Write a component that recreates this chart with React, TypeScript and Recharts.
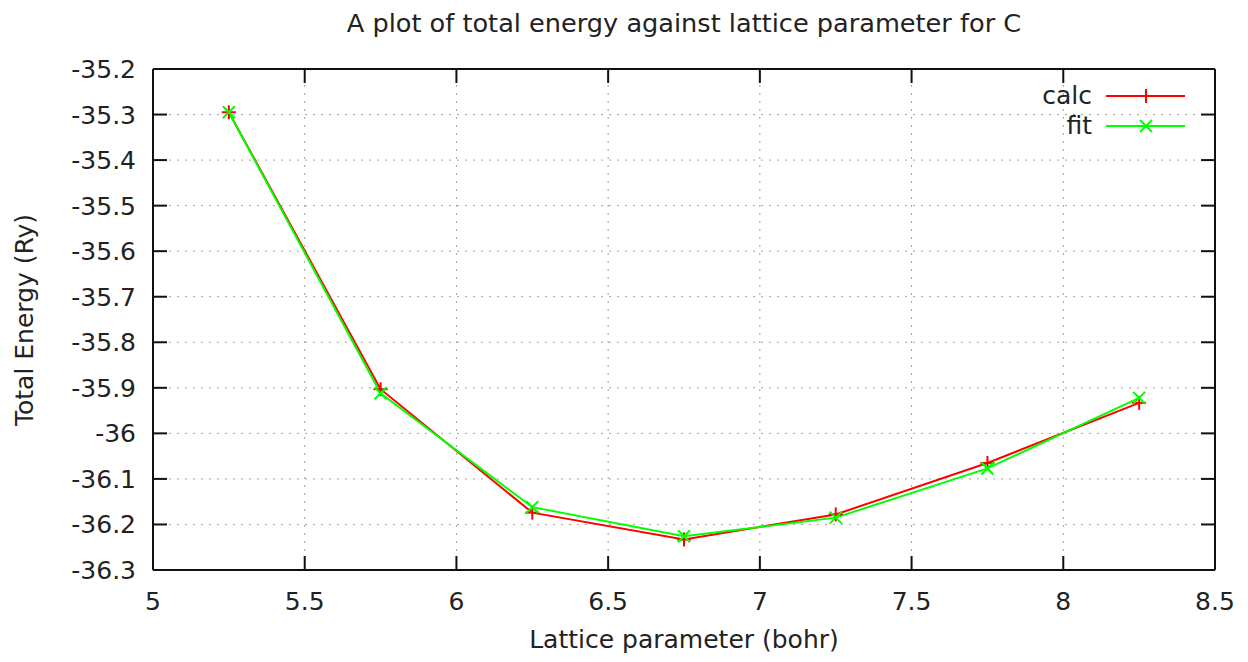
import React from 'react';
import { LineChart, Line, XAxis, YAxis, CartesianGrid, Customized } from 'recharts';

const latticeParams = [5.25, 5.75, 6.25, 6.75, 7.25, 7.75, 8.25];
const calcEnergy = [-35.295, -35.903, -36.174, -36.233, -36.178, -36.065, -35.933];
const fitEnergy = [-35.295, -35.912, -36.162, -36.226, -36.185, -36.077, -35.922];
const xTicks = [5, 5.5, 6, 6.5, 7, 7.5, 8, 8.5];
const yTicks = [-36.3, -36.2, -36.1, -36, -35.9, -35.8, -35.7, -35.6, -35.5, -35.4, -35.3, -35.2];

const data = latticeParams.map((a, i) => ({ a, calc: calcEnergy[i], fit: fitEnergy[i] }));

const FONT = 'DejaVu Sans';
const TEXT = '#222';
const W = 1232;
const H = 646;
const TICK_LEN = 14;
const LEFT_GAP = 17;
const BOTTOM_GAP = 22;
const BORDER = '#111';

const PlusDot = (props: any) => {
  const { cx, cy } = props;
  if (cx == null || cy == null) return null;
  return (
    <g>
      <line x1={cx - 7} x2={cx + 7} y1={cy} y2={cy} stroke="#ff0000" strokeWidth={2} />
      <line x1={cx} x2={cx} y1={cy - 7} y2={cy + 7} stroke="#ff0000" strokeWidth={2} />
    </g>
  );
};

const CrossDot = (props: any) => {
  const { cx, cy } = props;
  if (cx == null || cy == null) return null;
  return (
    <g>
      <line x1={cx - 6} x2={cx + 6} y1={cy - 6} y2={cy + 6} stroke="#00ff00" strokeWidth={2} />
      <line x1={cx - 6} x2={cx + 6} y1={cy + 6} y2={cy - 6} stroke="#00ff00" strokeWidth={2} />
    </g>
  );
};

const LeftTick = (props: any) => {
  const { x, y, payload } = props;
  const ax = x + LEFT_GAP;
  return (
    <g>
      <line x1={ax} x2={ax + TICK_LEN} y1={y} y2={y} stroke={BORDER} strokeWidth={2} />
      <text x={x} y={y} dy="0.36em" textAnchor="end" fontFamily={FONT} fontSize={25} fill={TEXT}>
        {String(payload.value)}
      </text>
    </g>
  );
};

const BottomTick = (props: any) => {
  const { x, y, payload } = props;
  const ay = y - BOTTOM_GAP;
  return (
    <g>
      <line x1={x} x2={x} y1={ay} y2={ay - TICK_LEN} stroke={BORDER} strokeWidth={2} />
      <text x={x} y={y} dy="0.72em" textAnchor="middle" fontFamily={FONT} fontSize={25} fill={TEXT}>
        {String(payload.value)}
      </text>
    </g>
  );
};

const TopTick = (props: any) => {
  const { x, y } = props;
  return <line x1={x} x2={x} y1={y} y2={y + TICK_LEN} stroke={BORDER} strokeWidth={2} />;
};

const RightTick = (props: any) => {
  const { x, y } = props;
  return <line x1={x} x2={x - TICK_LEN} y1={y} y2={y} stroke={BORDER} strokeWidth={2} />;
};

const Decorations = () => (
  <g fontFamily={FONT} fill={TEXT}>
    <text x={676} y={24} textAnchor="middle" fontSize={25.6} fill={TEXT}>
      A plot of total energy against lattice parameter for C
    </text>
    <text x={676} y={640} textAnchor="middle" fontSize={25} fill={TEXT}>
      Lattice parameter (bohr)
    </text>
    <text
      x={0}
      y={0}
      transform="translate(25,312) rotate(-90)"
      textAnchor="middle"
      fontSize={25}
      fill={TEXT}
    >
      Total Energy (Ry)
    </text>
    <text x={1084} y={96} textAnchor="end" fontSize={25} fill={TEXT}>calc</text>
    <line x1={1098} x2={1177} y1={88} y2={88} stroke="#ff0000" strokeWidth={2} />
    <PlusDot cx={1138} cy={88} />
    <text x={1084} y={126} textAnchor="end" fontSize={25} fill={TEXT}>fit</text>
    <line x1={1098} x2={1177} y1={118} y2={118} stroke="#00ff00" strokeWidth={2} />
    <CrossDot cx={1138} cy={118} />
  </g>
);

const axisLine = { stroke: BORDER, strokeWidth: 2 };

export default function App() {
  return (
    <LineChart
      width={W}
      height={H}
      data={data}
      margin={{ top: 41, right: 0, bottom: 24, left: 0 }}
    >
      <CartesianGrid
        xAxisId="bottom"
        yAxisId="left"
        stroke="#a0a0a0"
        strokeDasharray="2 6"
        strokeWidth={1}
      />
      <XAxis
        xAxisId="bottom"
        dataKey="a"
        type="number"
        domain={[5, 8.5]}
        ticks={xTicks}
        allowDataOverflow
        height={60}
        axisLine={axisLine}
        tickLine={false}
        tickSize={0}
        tickMargin={BOTTOM_GAP}
        tick={<BottomTick />}
        interval={0}
      />
      <XAxis
        xAxisId="top"
        orientation="top"
        dataKey="a"
        type="number"
        domain={[5, 8.5]}
        ticks={xTicks}
        allowDataOverflow
        height={20}
        axisLine={axisLine}
        tickLine={false}
        tickSize={0}
        tickMargin={0}
        tick={<TopTick />}
        interval={0}
      />
      <YAxis
        yAxisId="left"
        type="number"
        domain={[-36.3, -35.2]}
        ticks={yTicks}
        allowDataOverflow
        width={145}
        axisLine={axisLine}
        tickLine={false}
        tickSize={0}
        tickMargin={LEFT_GAP}
        tick={<LeftTick />}
        interval={0}
      />
      <YAxis
        yAxisId="right"
        orientation="right"
        type="number"
        domain={[-36.3, -35.2]}
        ticks={yTicks}
        allowDataOverflow
        width={25}
        axisLine={axisLine}
        tickLine={false}
        tickSize={0}
        tickMargin={0}
        tick={<RightTick />}
        interval={0}
      />
      <Line
        xAxisId="bottom"
        yAxisId="left"
        dataKey="calc"
        stroke="#ff0000"
        strokeWidth={2}
        dot={<PlusDot />}
        isAnimationActive={false}
        type="linear"
      />
      <Line
        xAxisId="bottom"
        yAxisId="left"
        dataKey="fit"
        stroke="#00ff00"
        strokeWidth={2}
        dot={<CrossDot />}
        isAnimationActive={false}
        type="linear"
      />
      <Customized component={Decorations} />
    </LineChart>
  );
}
